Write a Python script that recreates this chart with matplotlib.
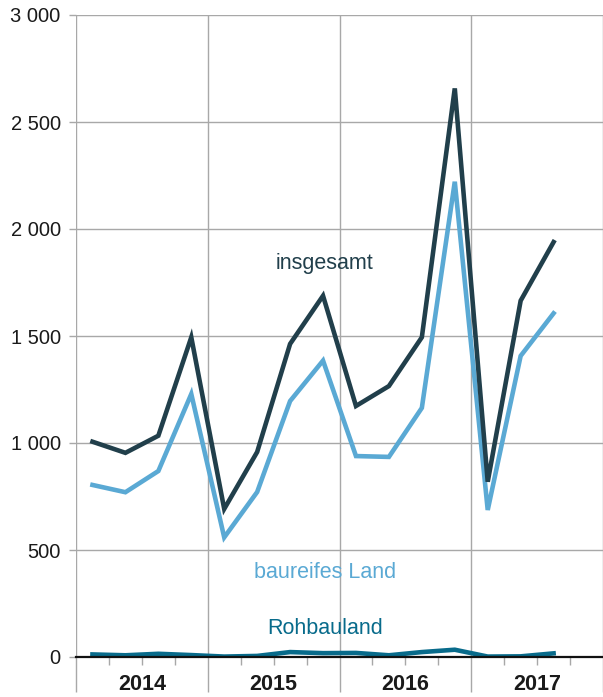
import matplotlib.pyplot as plt
import matplotlib.transforms as mtransforms
from matplotlib.ticker import FuncFormatter
import numpy as np

plt.rcParams['font.family'] = ['Liberation Sans', 'DejaVu Sans']

years = ['2014', '2015', '2016', '2017']
quarters_per_year = 4

insgesamt = [1006, 954, 1034, 1494, 692, 958, 1463, 1688,
             1173, 1266, 1494, 2657, 819, 1665, 1939]
baureifes = [804, 770, 869, 1229, 559, 771, 1196, 1385,
             939, 935, 1164, 2221, 687, 1407, 1606]
rohbauland = [12, 8, 15, 9, 2, 5, 23, 18,
              19, 8, 23, 34, 2, 3, 17]

COL_INS = '#213f4b'
COL_BAU = '#5aa9d4'
COL_ROH = '#086b8b'
GRID = '#a8a8a8'

fig = plt.figure(figsize=(6.03, 6.97), dpi=100)
ax = fig.add_axes([76/603, 40/697, 527/603, 642/697])

x = np.arange(len(insgesamt))
ax.plot(x, baureifes, color=COL_BAU, lw=3.3, solid_joinstyle='miter', zorder=3)
ax.plot(x, insgesamt, color=COL_INS, lw=3.3, solid_joinstyle='miter', zorder=4)
ax.plot(x, rohbauland, color=COL_ROH, lw=3.3, zorder=5)

n_slots = len(years) * quarters_per_year
ax.set_xlim(-0.5, n_slots - 0.5)
ax.set_ylim(0, 3000)

# y axis
ax.set_yticks(np.arange(0, 3001, 500))
ax.yaxis.set_major_formatter(FuncFormatter(lambda v, p: f'{int(v):,}'.replace(',', ' ')))
ax.tick_params(axis='y', length=5, color=GRID, width=1, labelsize=14.5, pad=6,
               labelcolor='#1a1a1a')
ax.grid(axis='y', color=GRID, lw=1)

# x axis: year boundaries as long gray ticks + grid, quarters as short ticks
bounds = np.arange(-0.5, n_slots, quarters_per_year)
ax.set_xticks(bounds)
ax.set_xticklabels([])
ax.tick_params(axis='x', which='major', length=25, color=GRID, width=1)
ax.grid(axis='x', which='major', color=GRID, lw=1)
qticks = [q for q in np.arange(0.5, n_slots, 1) if (q + 0.5) % quarters_per_year != 0]
ax.set_xticks(qticks, minor=True)
ax.tick_params(axis='x', which='minor', length=6, color=GRID, width=1)

trans = mtransforms.blended_transform_factory(ax.transData, ax.transAxes)
for i, yr in enumerate(years):
    ax.text(i * quarters_per_year + 1.5, -0.0436, yr, transform=trans, ha='center',
            va='center', fontsize=15.5, fontweight='bold', color='#1a1a1a')

for s in ['top', 'right', 'left']:
    ax.spines[s].set_visible(False)
ax.spines['bottom'].set_color('#111111')
ax.spines['bottom'].set_linewidth(1.6)
ax.spines['bottom'].set_zorder(6)

ax.text(7.04, 1841, 'insgesamt', color=COL_INS, fontsize=15.5, ha='center', va='center')
ax.text(7.06, 397, 'baureifes Land', color=COL_BAU, fontsize=15.5, ha='center', va='center')
ax.text(7.06, 135, 'Rohbauland', color=COL_ROH, fontsize=15.5, ha='center', va='center')

fig.savefig('out.png', dpi=100)
